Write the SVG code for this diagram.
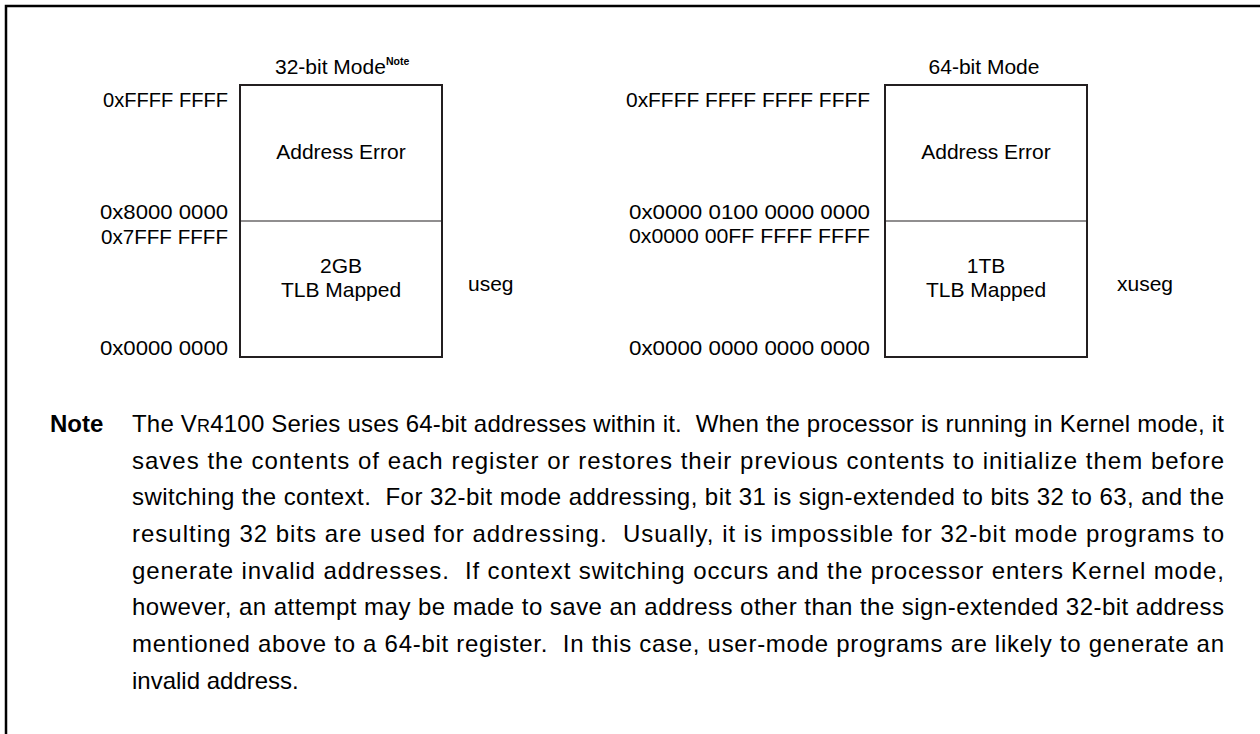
<svg xmlns="http://www.w3.org/2000/svg" width="1260" height="734" viewBox="0 0 1260 734">
<style>
text{font-family:"Liberation Sans",Arial,sans-serif;fill:#000}
.lbl{font-size:21px}
.c{text-anchor:middle}
.r{text-anchor:end}
.box{fill:#fff;stroke:#231f20;stroke-width:2}
.div{stroke:#231f20;stroke-width:1.2}
.note{font-size:24px}
.note text{white-space:pre}
</style>
<rect width="1260" height="734" fill="#fff"/>
<path d="M6,734 V6 H1260" fill="none" stroke="#000" stroke-width="2.5"/>

<g id="mode32">
<rect class="box" x="240" y="85" width="202" height="272"/>
<line class="div" x1="240" y1="221" x2="442" y2="221"/>
<text class="lbl" x="275" y="74">32-bit Mode<tspan font-size="10.5" font-weight="bold" dy="-9">Note</tspan></text>
<text class="lbl r" x="228" y="107" textLength="125" lengthAdjust="spacingAndGlyphs">0xFFFF FFFF</text>
<text class="lbl r" x="228" y="219" textLength="128" lengthAdjust="spacingAndGlyphs">0x8000 0000</text>
<text class="lbl r" x="228" y="244" textLength="127" lengthAdjust="spacingAndGlyphs">0x7FFF FFFF</text>
<text class="lbl r" x="228" y="355" textLength="128" lengthAdjust="spacingAndGlyphs">0x0000 0000</text>
<text class="lbl c" x="341" y="159">Address Error</text>
<text class="lbl c" x="341" y="273">2GB</text>
<text class="lbl c" x="341" y="297">TLB Mapped</text>
<text class="lbl" x="468" y="291">useg</text>
</g>

<g id="mode64">
<rect class="box" x="885" y="85" width="202" height="272"/>
<line class="div" x1="885" y1="221" x2="1087" y2="221"/>
<text class="lbl c" x="984" y="74">64-bit Mode</text>
<text class="lbl r" x="870" y="107" textLength="244" lengthAdjust="spacingAndGlyphs">0xFFFF FFFF FFFF FFFF</text>
<text class="lbl r" x="870" y="219" textLength="241" lengthAdjust="spacingAndGlyphs">0x0000 0100 0000 0000</text>
<text class="lbl r" x="870" y="243" textLength="241" lengthAdjust="spacingAndGlyphs">0x0000 00FF FFFF FFFF</text>
<text class="lbl r" x="870" y="355" textLength="241" lengthAdjust="spacingAndGlyphs">0x0000 0000 0000 0000</text>
<text class="lbl c" x="986" y="159">Address Error</text>
<text class="lbl c" x="986" y="273">1TB</text>
<text class="lbl c" x="986" y="297">TLB Mapped</text>
<text class="lbl" x="1117" y="291">xuseg</text>
</g>

<g id="note" class="note">
<text x="50" y="432" font-weight="bold">Note</text>
<text x="132" y="432" textLength="1092" lengthAdjust="spacing" xml:space="preserve">The V<tspan font-size="18">R</tspan>4100 Series uses 64-bit addresses within it.  When the processor is running in Kernel mode, it</text>
<text x="132" y="468.7" textLength="1092" lengthAdjust="spacing">saves the contents of each register or restores their previous contents to initialize them before</text>
<text x="132" y="505.3" textLength="1092" lengthAdjust="spacing" xml:space="preserve">switching the context.  For 32-bit mode addressing, bit 31 is sign-extended to bits 32 to 63, and the</text>
<text x="132" y="542" textLength="1092" lengthAdjust="spacing" xml:space="preserve">resulting 32 bits are used for addressing.  Usually, it is impossible for 32-bit mode programs to</text>
<text x="132" y="578.7" textLength="1092" lengthAdjust="spacing" xml:space="preserve">generate invalid addresses.  If context switching occurs and the processor enters Kernel mode,</text>
<text x="132" y="615.3" textLength="1092" lengthAdjust="spacing">however, an attempt may be made to save an address other than the sign-extended 32-bit address</text>
<text x="132" y="652" textLength="1092" lengthAdjust="spacing" xml:space="preserve">mentioned above to a 64-bit register.  In this case, user-mode programs are likely to generate an</text>
<text x="132" y="688.7">invalid address.</text>
</g>
</svg>
